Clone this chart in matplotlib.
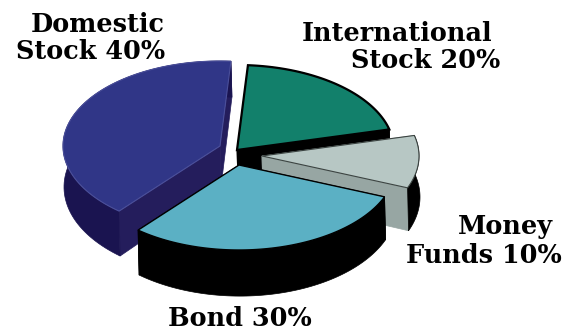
import matplotlib
matplotlib.use('Agg')
import matplotlib.pyplot as plt
import numpy as np
from matplotlib.patches import Polygon

# slices run clockwise from the start angle
names = ['International', 'Money', 'Bond', 'Domestic']
values = [20, 10, 30, 40]
start_angle = 86

# pie geometry, in pixels
rx = 157
ry = 85
centers = [(237, 150), (262, 156), (239, 165), (220, 146)]

top_colors = ['#12806b', '#b7c7c4', '#5bb0c4', '#303687']
radial_colors = ['#000000', '#97a6a3', '#000000', '#241d5c']
arc_colors = ['#000000', '#000000', '#000000', '#1a1450']
edge_colors = ['#000000', '#3c4442', '#000000', '#4a4f9a']
edge_widths = [1.6, 0.8, 1.0, 0.8]

# label text split in lines: (right x, baseline y, text)
label_lines = [
    (165, 32, 'Domestic'), (165, 59, 'Stock 40%'),
    (492, 41, 'International'), (500, 68, 'Stock 20%'),
    (553, 234, 'Money'), (562, 263, 'Funds 10%'),
    (312, 326, 'Bond 30%'),
]


def extrude(pts, cy):
    # the pie gets slightly thicker toward the viewer
    pts = np.asarray(pts, dtype=float)
    depth = 41 + 0.06 * (pts[:, 1] - cy)
    return np.column_stack([pts[:, 0] + 1, pts[:, 1] + depth])


def draw_slice(ax, center, t0, t1, top, radial, arc, edge, lw):
    cx, cy = center
    t = np.radians(np.linspace(t0, t1, 80))
    rim = np.column_stack([cx + rx * np.cos(t), cy - ry * np.sin(t)])
    apex = np.array([[cx, cy]])

    # walls first, the top face hides whatever points backwards
    for side in (np.vstack([apex, rim[:1]]), np.vstack([apex, rim[-1:]])):
        wall = np.vstack([side, extrude(side, cy)[::-1]])
        ax.add_patch(Polygon(wall, fc=radial, ec=radial, lw=0.5))
    wall = np.vstack([rim, extrude(rim, cy)[::-1]])
    ax.add_patch(Polygon(wall, fc=arc, ec=arc, lw=0.5))

    ax.add_patch(Polygon(np.vstack([apex, rim]), fc=top, ec=edge, lw=lw))


fig = plt.figure(figsize=(5.66, 3.31), dpi=100)
ax = fig.add_axes([0, 0, 1, 1])
ax.set_xlim(0, 566)
ax.set_ylim(331, 0)
ax.axis('off')

angles = start_angle - np.cumsum([0] + values) * 3.6
for i in [0, 1, 3, 2]:
    draw_slice(ax, centers[i], angles[i], angles[i + 1], top_colors[i],
               radial_colors[i], arc_colors[i], edge_colors[i], edge_widths[i])

for x, y, text in label_lines:
    ax.text(x, y, text, family='DejaVu Serif', weight='bold', fontsize=18.4,
            color='black', ha='right', va='baseline')

fig.savefig('out.png', dpi=100)
